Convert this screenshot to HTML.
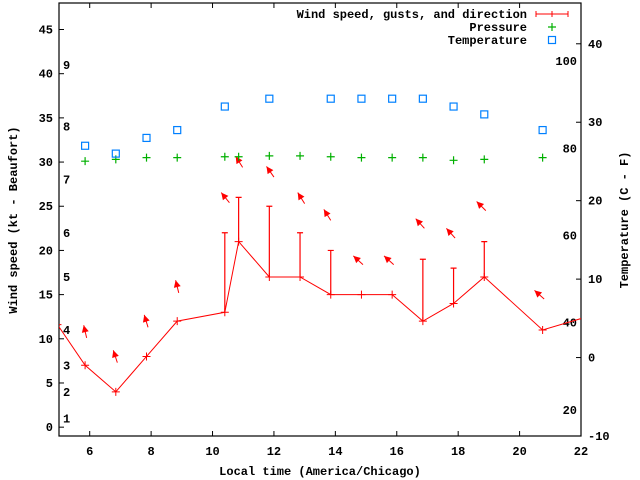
<!DOCTYPE html>
<html><head><meta charset="utf-8"><style>
body{margin:0;background:#fff}
svg{display:block;font-family:"Liberation Mono",monospace;font-weight:bold;font-size:12px}
</style></head><body>
<svg id="c" width="640" height="480"></svg>
<script>
const times=[4.95,5.85,6.85,7.85,8.85,10.4,10.85,11.85,12.85,13.85,14.85,15.85,16.85,17.85,18.85,20.75,22.3];
const speeds=[11.6,7,4,8,12,13,21,17,17,15,15,15,12,14,17,11,12.6];
const gustTimes=[10.4,10.85,11.85,12.85,13.85,16.85,17.85,18.85];
const gustBase=[13,21,17,17,15,12,14,17];
const gusts=[22,26,25,22,20,19,18,21];
const arrowTimes=[5.9,6.9,7.9,8.9,10.55,10.98,12.0,13.0,13.85,14.9,15.9,16.9,17.9,18.9,20.8];
const arrowVals=[10.1,7.3,11.3,15.2,25.4,29.4,28.3,25.3,23.4,18.4,18.4,22.5,21.4,24.5,14.5];
const arrowDirs=[347,342,343,346,321,328,325,328,328,312,312,318,318,315,312];
const presTimes=[5.85,6.85,7.85,8.85,10.4,10.85,11.85,12.85,13.85,14.85,15.85,16.85,17.85,18.85,20.75];
const pressure=[30.1,30.3,30.5,30.5,30.6,30.6,30.7,30.7,30.6,30.5,30.5,30.5,30.2,30.3,30.5];
const tempTimes=[5.85,6.85,7.85,8.85,10.4,11.85,13.85,14.85,15.85,16.85,17.85,18.85,20.75];
const tempsC=[27,26,28,29,32,33,33,33,33,33,32,31,29];
const xTicks=[6,8,10,12,14,16,18,20,22];
const yTicks=[0,5,10,15,20,25,30,35,40,45];
const cTicks=[-10,0,10,20,30,40];
const fTicks=[20,40,60,80,100];
const beaufort=[1,4,7,11,17,22,28,34,41];

const L=59,R=581,T=3,B=436;
const X=t=>L+(t-5)/(22-5)*(R-L);
const Y=v=>B-(v+1)/(48+1)*(B-T);
const YC=c=>B-(c+10)/(55.2)*(B-T);
const YF=f=>YC((f-32)*5/9);
const svg=document.getElementById('c');
const NS='http://www.w3.org/2000/svg';
function el(tag,attrs,parent){const e=document.createElementNS(NS,tag);for(const k in attrs)e.setAttribute(k,attrs[k]);(parent||svg).appendChild(e);return e;}
function txt(x,y,s,anchor,extra){const e=el('text',Object.assign({x:x,y:y,'text-anchor':anchor||'middle'},extra||{}));e.textContent=s;return e;}

const clip=el('clipPath',{id:'pc'});el('rect',{x:L,y:T,width:R-L,height:B-T},clip);
// axes frame
const frame=el('rect',{x:L,y:T,width:R-L,height:B-T,fill:'none',stroke:'#000','stroke-width':1.2});


xTicks.forEach(t=>{const x=X(t);
 el('line',{x1:x,y1:B,x2:x,y2:B-5,stroke:'#000'});el('line',{x1:x,y1:T,x2:x,y2:T+5,stroke:'#000'});
 const e=txt(x,455,String(t));});
yTicks.forEach(v=>{const y=Y(v);
 el('line',{x1:L,y1:y,x2:L+5,y2:y,stroke:'#000'});
 const e=txt(53,y+4,String(v),'end');});
cTicks.forEach(c=>{const y=YC(c);
 el('line',{x1:R,y1:y,x2:R-5,y2:y,stroke:'#000'});
 const e=txt(588,y+4,String(c),'start');});
fTicks.forEach(f=>{const e=txt(577,YF(f)+4,String(f),'end');});
beaufort.forEach((k,i)=>{const e=txt(63,Y(k)+4,String(i+1),'start');});

let t1=txt(320,475,'Local time (America/Chicago)');
let t2=txt(0,0,'Wind speed (kt - Beaufort)','middle',{transform:'translate(17,220) rotate(-90)'});
let t3=txt(0,0,'Temperature (C - F)','middle',{transform:'translate(628,220) rotate(-90)'});

const g=el('g',{'clip-path':'url(#pc)'});
// wind line
const wl=el('polyline',{points:times.map((t,i)=>X(t)+','+Y(speeds[i])).join(' '),fill:'none',stroke:'#f00','stroke-width':1},g);

times.forEach((t,i)=>{const x=X(t),y=Y(speeds[i]);
 const p=el('path',{d:`M${x-4},${y}h8M${x},${y-4}v8`,stroke:'#f00'},g);
 });
gustTimes.forEach((t,i)=>{const x=X(t);const y2=Y(gusts[i]);
 const p=el('path',{d:`M${x},${Y(gustBase[i])}V${y2}M${x-3},${y2}h6`,stroke:'#f00','stroke-width':1.2},g);
 });
arrowTimes.forEach((t,i)=>{const x=X(t),y=Y(arrowVals[i]);const a=arrowDirs[i]*Math.PI/180;
 const dx=Math.sin(a)*13,dy=-Math.cos(a)*13;const hx=x+dx,hy=y+dy;
 const ux=dx/13,uy=dy/13,px=-uy,py=ux;
 const ag=el('g',{},g);
 el('line',{x1:x,y1:y,x2:hx,y2:hy,stroke:'#f00','stroke-width':1},ag);
 el('polygon',{points:`${hx},${hy} ${hx-ux*7+px*3.5},${hy-uy*7+py*3.5} ${hx-ux*7-px*3.5},${hy-uy*7-py*3.5}`,fill:'#f00'},ag);});
presTimes.forEach((t,i)=>{const x=X(t),y=Y(pressure[i]);
 const p=el('path',{d:`M${x-4},${y}h8M${x},${y-4}v8`,stroke:'#00b000','stroke-width':1.2},g);
 });
tempTimes.forEach((t,i)=>{const x=X(t),y=YC(tempsC[i]);
 const r=el('rect',{x:x-3.5,y:y-3.5,width:7,height:7,fill:'none',stroke:'#0080ff','stroke-width':1.2},g);
 });

// legend
const lg=el('g',{});
let l1=txt(527,18,'Wind speed, gusts, and direction','end');lg.appendChild(l1);
el('path',{d:'M536,14h32M536,11v6M568,11v6M552,11v6',stroke:'#f00'},lg);
let l2=txt(527,31,'Pressure','end');lg.appendChild(l2);
el('path',{d:'M548,27h8M552,23v8',stroke:'#00b000','stroke-width':1.2},lg);
let l3=txt(527,44,'Temperature','end');lg.appendChild(l3);
el('rect',{x:548.5,y:36.5,width:7,height:7,fill:'none',stroke:'#0080ff','stroke-width':1.2},lg);
[l1,l2,l3].forEach(e=>{});
</script>
</body></html>
